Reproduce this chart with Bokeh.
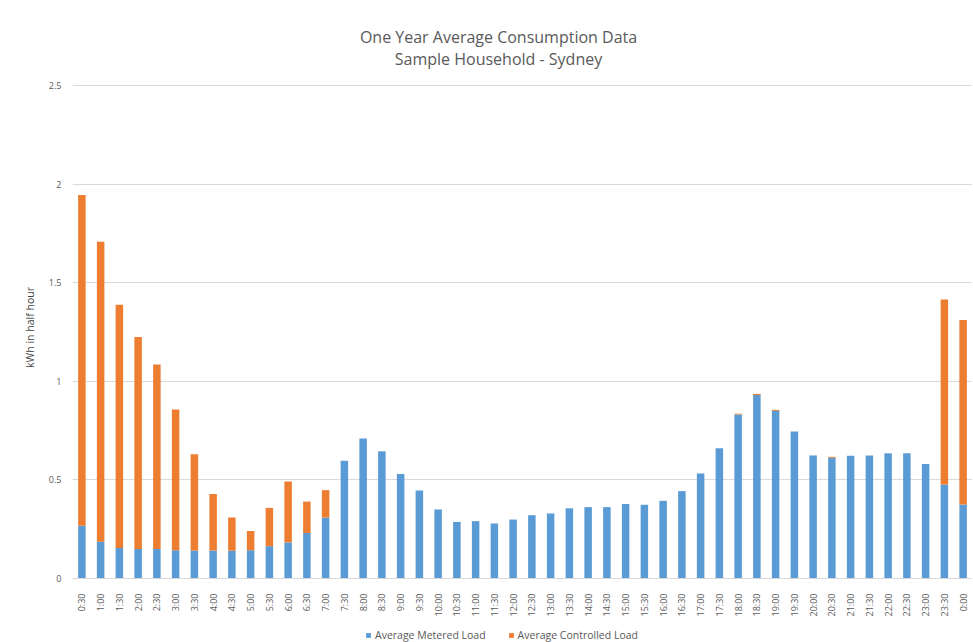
import math
from bokeh.plotting import figure
from bokeh.models import (ColumnDataSource, Range1d, FactorRange, Label, Legend, LegendItem,
                          FixedTicker, CategoricalAxis)
from bokeh.embed import file_html
from bokeh.resources import INLINE

times = ["0:30", "1:00", "1:30", "2:00", "2:30", "3:00", "3:30", "4:00", "4:30", "5:00",
         "5:30", "6:00", "6:30", "7:00", "7:30", "8:00", "8:30", "9:00", "9:30", "10:00",
         "10:30", "11:00", "11:30", "12:00", "12:30", "13:00", "13:30", "14:00", "14:30", "15:00",
         "15:30", "16:00", "16:30", "17:00", "17:30", "18:00", "18:30", "19:00", "19:30", "20:00",
         "20:30", "21:00", "21:30", "22:00", "22:30", "23:00", "23:30", "0:00"]

metered = [0.267, 0.186, 0.155, 0.149, 0.149, 0.143, 0.142, 0.142, 0.141, 0.143,
           0.164, 0.183, 0.231, 0.309, 0.597, 0.710, 0.645, 0.530, 0.446, 0.350,
           0.287, 0.291, 0.279, 0.299, 0.321, 0.330, 0.356, 0.362, 0.362, 0.378,
           0.374, 0.394, 0.443, 0.532, 0.661, 0.832, 0.930, 0.850, 0.745, 0.624,
           0.612, 0.622, 0.624, 0.635, 0.635, 0.581, 0.477, 0.375]

controlled = [1.677, 1.521, 1.233, 1.076, 0.936, 0.714, 0.488, 0.287, 0.168, 0.098,
              0.194, 0.309, 0.159, 0.139, 0.0, 0.0, 0.0, 0.0, 0.0, 0.0,
              0.0, 0.0, 0.0, 0.0, 0.0, 0.0, 0.0, 0.0, 0.0, 0.0,
              0.0, 0.0, 0.0, 0.0, 0.0, 0.004, 0.006, 0.005, 0.0, 0.0,
              0.005, 0.0, 0.0, 0.0, 0.0, 0.0, 0.938, 0.936]

series_names = ["Average Metered Load", "Average Controlled Load"]
title_lines = ["One Year Average Consumption Data", "Sample Household - Sydney"]
y_ticks = [0, 0.5, 1, 1.5, 2, 2.5]

BLUE = "#5B9BD5"
ORANGE = "#ED7D31"
TXT = "#595959"
GRID = "#D9D9D9"
FONT = "Open Sans"

source = ColumnDataSource(data=dict(t=times, metered=metered, controlled=controlled))

# frame spans the whole chart height; the value axis 0..2.5 occupies the middle part
p = figure(x_range=FactorRange(*times, range_padding=0), y_range=Range1d(-0.3245, 2.870),
           frame_width=900, frame_height=630, x_axis_location=None,
           min_border_left=72, min_border_top=12, min_border_right=0, min_border_bottom=0,
           output_backend="svg", toolbar_location=None)

rs = p.vbar_stack(["metered", "controlled"], x="t", width=0.4, source=source,
                  color=[BLUE, ORANGE], line_width=0)

xaxis = CategoricalAxis(fixed_location=0)
xaxis.axis_line_color = GRID
xaxis.major_tick_line_color = None
xaxis.minor_tick_line_color = None
xaxis.major_label_orientation = math.pi / 2
xaxis.major_label_text_font = FONT
xaxis.major_label_text_font_size = "9px"
xaxis.major_label_text_color = TXT
xaxis.major_label_standoff = 9
p.add_layout(xaxis, "below")

# two-line chart title (screen units relative to the plot frame)
for txt, ty in zip(title_lines, [606, 584]):
    p.add_layout(Label(x=426, y=ty, x_units="screen", y_units="screen", text=txt,
                       text_font=FONT, text_font_size="16px", text_color=TXT,
                       text_align="center", text_baseline="middle"))

p.outline_line_color = None
p.xgrid.grid_line_color = None
p.ygrid.grid_line_color = GRID
p.ygrid.grid_line_width = 1

p.yaxis.ticker = FixedTicker(ticks=y_ticks)
p.yaxis.axis_line_color = None
p.yaxis.major_tick_line_color = None
p.yaxis.minor_tick_line_color = None
p.yaxis.major_label_text_font = FONT
p.yaxis.major_label_text_font_size = "9px"
p.yaxis.major_label_text_color = TXT
p.yaxis.axis_label = "kWh in half hour"
p.yaxis.axis_label_text_font = FONT
p.yaxis.axis_label_text_font_size = "10.5px"
p.yaxis.axis_label_text_font_style = "normal"
p.yaxis.axis_label_text_color = "#404040"
p.yaxis.axis_label_standoff = 9

legend = Legend(items=[LegendItem(label=series_names[0], renderers=[rs[0]]),
                       LegendItem(label=series_names[1], renderers=[rs[1]])],
                orientation="horizontal", location=(293, 0),
                label_text_font=FONT, label_text_font_size="10.5px", label_text_color=TXT,
                glyph_width=6, glyph_height=6, label_height=12, spacing=22, padding=0, margin=0,
                label_standoff=4, border_line_color=None, background_fill_alpha=0)
p.add_layout(legend, "center")

open("out.html", "w").write(file_html(p, INLINE))
